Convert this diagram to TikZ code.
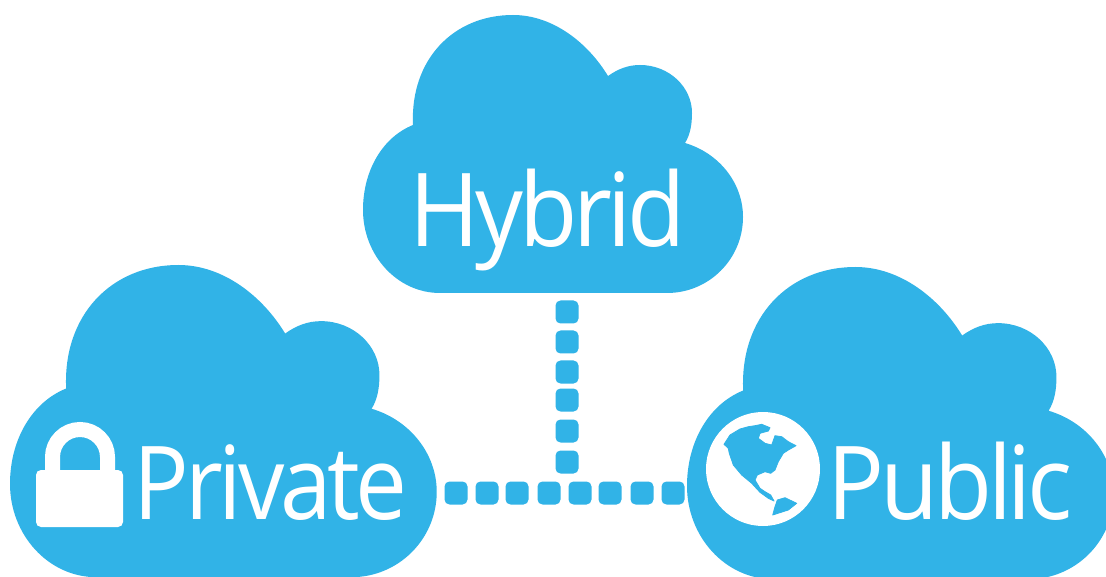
\documentclass[tikz,border=0pt]{standalone}
\usepackage{fontspec}
\setmainfont[LetterSpace=-4.5]{Open Sans}
\definecolor{cloudblue}{RGB}{49,179,231}
\tikzset{
    cloudfill/.style={fill=cloudblue, draw=none},
    cloudtext/.style={anchor=base west, inner sep=0pt, text=white,
        font=\fontsize{102}{102}\selectfont},
    linkdot/.style={fill=cloudblue, rounded corners=5pt, minimum size=23pt,
        inner sep=0pt},
    landmass/.style={fill=cloudblue, draw=cloudblue, line width=0.8pt, line join=round},
    cloudshape/.pic={
        \fill[cloudfill] (77,278) .. controls (34,278) and (0,240) .. (0,195)
            .. controls (0,155) and (20,122) .. (50,110)
            .. controls (47,45) and (90,0) .. (150,0)
            .. controls (190,0) and (225,28) .. (245,61)
            .. controls (255,54) and (265,50) .. (277,50)
            .. controls (306,50) and (329,72) .. (329,98)
            .. controls (329,110) and (327,120) .. (322,128)
            .. controls (356,138) and (380,168) .. (380,202)
            .. controls (380,244) and (346,278) .. (304,278) -- cycle;
    }
}
\begin{document}
\begin{tikzpicture}[x=1pt, y=-1pt]
    \clip (0,0) rectangle (1106,577);
    \fill[white] (0,0) rectangle (1106,577);

    \pic at (363,15) {cloudshape};
    \pic[scale=1.123] at (10,265) {cloudshape};
    \pic[scale=1.123] at (687,267) {cloudshape};

    \node[cloudtext, xscale=0.933] (hybrid) at (409.5,247) {Hybrid};
    \node[cloudtext, xscale=0.907] (private) at (133.5,519) {Private};
    \node[cloudtext, xscale=0.928] (public) at (827.5,519) {Public};

    \foreach \i/\ypos in {1/312,2/342,3/372,4/400,5/431,6/462}
        \node[linkdot] (up\i) at (567,\ypos) {};
    \foreach \i/\xpos in {1/456,2/487,3/517,4/549,5/580,6/610,7/642,8/673}
        \node[linkdot] (across\i) at (\xpos,493) {};

    % lock
    \draw[white, line width=15pt] (52.5,472) -- (52.5,457)
        arc[start angle=180, end angle=360, radius=27.5] -- (107.5,472);
    \fill[white, rounded corners=5pt] (36,470) rectangle (123,527);

    % globe
    \node[circle, fill=white, minimum size=114pt, inner sep=0pt] (globe) at (763,469) {};
    \path[landmass] (724,444.3) -- (730,435) -- (740,429) -- (748.3,426.7)
        -- (755,425.7) -- (761.7,424.3) -- (770,427.7) -- (768.3,431) -- (760,433.3)
        -- (758.3,438.3) -- (765,443.3) -- (771.7,445) -- (775,435.7) -- (781.7,436.7)
        -- (788.3,441.7) -- (796,445.7) -- (788.3,450) -- (783.3,453.3) -- (778.3,461.7)
        -- (775,470) -- (770.7,473.3) -- (765,471.7) -- (757.3,475) -- (755,480)
        -- (760,488.3) -- (765,491.7) -- (770.7,495) -- (774,501) -- (768.3,498.3)
        -- (760,492.3) -- (751.7,483.3) -- (741.7,475) -- (733.3,465) -- (729.3,453.3)
        -- (728.3,448.3) -- cycle;
    \path[landmass] (777.3,500) -- (785,497.7) -- (796.7,503.3) -- (788.3,510)
        -- (772.7,515) -- (775,506.7) -- cycle;
\end{tikzpicture}
\end{document}
